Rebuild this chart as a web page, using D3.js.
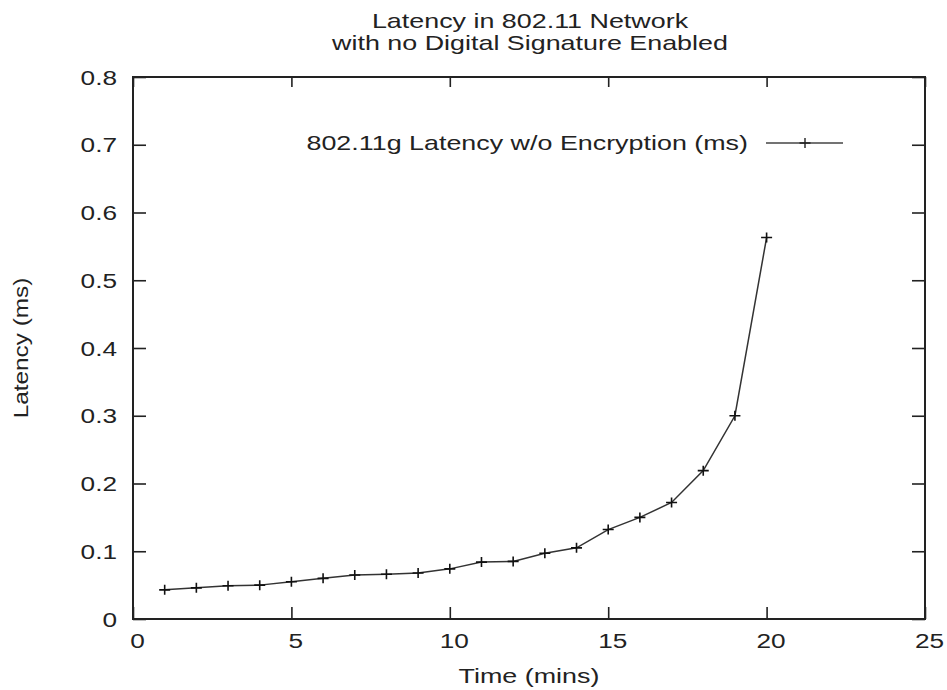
<!DOCTYPE html>
<html>
<head>
<meta charset="utf-8">
<script src="https://cdn.jsdelivr.net/npm/d3@7"></script>
<style>
    body { margin: 0; background: #fff; }
    text { font-family: "Liberation Sans", Arial, Helvetica, sans-serif; fill: #222; }
</style>
</head>
<body>
<svg id="drawing_region"></svg>
<script>
// values
const times = [1, 2, 3, 4, 5, 6, 7, 8, 9, 10, 11, 12, 13, 14, 15, 16, 17, 18, 19, 20];
const latency = [0.043, 0.046, 0.049, 0.050, 0.055, 0.060, 0.065, 0.066, 0.068, 0.074,
                 0.084, 0.085, 0.097, 0.105, 0.132, 0.150, 0.172, 0.219, 0.300, 0.563];
const xTicks = [0, 5, 10, 15, 20, 25];
const yTicks = [0, 0.1, 0.2, 0.3, 0.4, 0.5, 0.6, 0.7, 0.8];
const titleLines = ["Latency in 802.11 Network", "with no Digital Signature Enabled"];
const seriesName = "802.11g Latency w/o Encryption (ms)";

const data = times.map( (t, i) => ({ x: t, y: latency[i] }) );

const config = {
    width: 947,
    height: 690,
    margin: {top: 77, right: 22, bottom: 71, left: 133}
};

const sx = 1.28;     // the text in the picture is stretched sideways
const tickSx = 1.31;

const svg = d3.select('#drawing_region')
    .attr('width', config.width)
    .attr('height', config.height);

const inner_width = config.width - config.margin.left - config.margin.right;
const inner_height = config.height - config.margin.top - config.margin.bottom;

const chart = svg.append('g')
    .attr('transform', `translate(${config.margin.left}, ${config.margin.top})`);

const xscale = d3.scaleLinear().domain([0, 25]).range([0, inner_width]);
const yscale = d3.scaleLinear().domain([0, 0.8]).range([inner_height, 0]);

// ticks point inward, mirrored on top and right
const xaxis = d3.axisBottom(xscale).tickValues(xTicks).tickSizeInner(-12).tickSizeOuter(0);
const xaxis_top = d3.axisTop(xscale).tickValues(xTicks).tickSizeInner(-10).tickSizeOuter(0).tickFormat('');
const yaxis = d3.axisLeft(yscale).tickValues(yTicks).tickSizeInner(-13).tickSizeOuter(0)
    .tickFormat(d => d === 0 ? '0' : d3.format('.1f')(d));
const yaxis_right = d3.axisRight(yscale).tickValues(yTicks).tickSizeInner(-13).tickSizeOuter(0).tickFormat('');

const xg = chart.append('g').attr('transform', `translate(0, ${inner_height})`).call(xaxis);
chart.append('g').call(xaxis_top);
const yg = chart.append('g').call(yaxis);
chart.append('g').attr('transform', `translate(${inner_width}, 0)`).call(yaxis_right);

chart.selectAll('.tick line').attr('stroke', '#222').attr('stroke-width', 1.6);
chart.selectAll('.domain').remove();

xg.selectAll('.tick text')
    .attr('x', 4 / tickSx)
    .attr('y', 29).attr('dy', 0)
    .attr('font-size', 20)
    .attr('transform', `scale(${tickSx},1)`);

yg.selectAll('.tick text')
    .attr('x', -16 / tickSx).attr('dy', '0.36em')
    .attr('font-size', 20)
    .attr('transform', `scale(${tickSx},1)`);

// frame
chart.append('rect')
    .attr('width', inner_width)
    .attr('height', inner_height)
    .attr('fill', 'none')
    .attr('stroke', '#222')
    .attr('stroke-width', 2);

// series line
const line = d3.line().x(d => xscale(d.x)).y(d => yscale(d.y));
chart.append('path')
    .datum(data)
    .attr('d', line)
    .attr('fill', 'none')
    .attr('stroke', '#333')
    .attr('stroke-width', 1.5);

const plus = 'M-5.5,0H5.5M0,-5V5';
chart.selectAll('.pt')
    .data(data)
    .enter()
    .append('path')
    .attr('class', 'pt')
    .attr('transform', d => `translate(${xscale(d.x)}, ${yscale(d.y)})`)
    .attr('d', plus)
    .attr('stroke', '#111')
    .attr('stroke-width', 1.6);

// legend
const legend = svg.append('g').attr('transform', 'translate(805, 143)');
legend.append('line')
    .attr('x1', -39).attr('x2', 38)
    .attr('stroke', '#444').attr('stroke-width', 1.5);
legend.append('path').attr('d', plus).attr('stroke', '#222').attr('stroke-width', 1.4);
legend.append('g')
    .attr('transform', `translate(-57, 7) scale(${sx},1)`)
    .append('text')
    .attr('text-anchor', 'end')
    .attr('font-size', 21)
    .text(seriesName);

// title
svg.selectAll('.title')
    .data(titleLines)
    .enter()
    .append('g')
    .attr('class', 'title')
    .attr('transform', (d, i) => `translate(${config.margin.left + inner_width / 2 + 1}, ${28 + i * 22}) scale(${sx},1)`)
    .append('text')
    .attr('text-anchor', 'middle')
    .attr('font-size', 21)
    .text(d => d);

// axis labels
svg.append('g')
    .attr('transform', `translate(${config.margin.left + inner_width / 2}, 683) scale(${sx},1)`)
    .append('text')
    .attr('text-anchor', 'middle')
    .attr('font-size', 21)
    .text('Time (mins)');

svg.append('g')
    .attr('transform', `translate(28, ${config.margin.top + inner_height / 2}) rotate(-90) scale(1.16,1)`)
    .append('text')
    .attr('text-anchor', 'middle')
    .attr('font-size', 21)
    .text('Latency (ms)');
</script>
</body>
</html>
